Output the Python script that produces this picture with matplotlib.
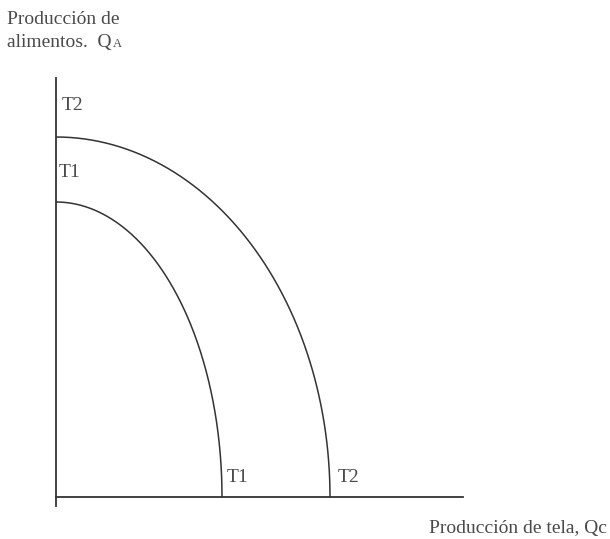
import numpy as np
import matplotlib
matplotlib.use("Agg")
import matplotlib.pyplot as plt

# Data: intercepts of the production possibility frontiers
curves = ["T1", "T2"]
x_intercepts = [166, 274]   # cloth production (Qc) at zero food
y_intercepts = [295, 360]   # food production (QA) at zero cloth

y_label_lines = ["Producción de", "alimentos.  Q"]
y_label_sub = "A"
x_label = "Producción de tela, Qc"

W, H = 610, 539
fig = plt.figure(figsize=(W / 100, H / 100), dpi=100)
ox, oy = 56, 497          # origin in pixels
x_end, y_top, y_below = 463, 78, 9
ax = fig.add_axes([ox / W, (H - oy - y_below) / H, (x_end - ox) / W, (oy + y_below - y_top) / H])
ax.set_xlim(0, x_end - ox)
ax.set_ylim(-y_below, oy - y_top)

col = "#333333"
for s in ["top", "right"]:
    ax.spines[s].set_visible(False)
ax.spines["bottom"].set_position(("data", 0))
for s in ["left", "bottom"]:
    ax.spines[s].set_color(col)
    ax.spines[s].set_linewidth(1.3)
ax.set_xticks([])
ax.set_yticks([])
ax.patch.set_alpha(0)

t = np.linspace(0, np.pi / 2, 300)
for name, a, b in zip(curves, x_intercepts, y_intercepts):
    ax.plot(a * np.sin(t), b * np.cos(t), color=col, lw=1.1, solid_capstyle="butt")

font = dict(family="Liberation Serif", color="#4a4a4a", fontsize=14)
# curve labels
ax.text(6, y_intercepts[1] + 32, curves[1], ha="left", va="center", **font)
ax.text(3, y_intercepts[0] + 30, curves[0], ha="left", va="center", **font)
ax.text(x_intercepts[0] + 5, 20, curves[0], ha="left", va="center", **font)
ax.text(x_intercepts[1] + 8, 20, curves[1], ha="left", va="center", **font)

# axis titles
fig.text(7 / W, 1 - 20 / H, y_label_lines[0], ha="left", va="center", **font)
t2 = fig.text(7 / W, 1 - 43 / H, y_label_lines[1], ha="left", va="center", **font)
fig.canvas.draw()
bb = t2.get_window_extent()
fig.text(bb.x1 / W + 1 / W, 1 - 44 / H, y_label_sub, ha="left", va="center",
         family="Liberation Serif", color="#4a4a4a", fontsize=9)
fig.text(607 / W, 1 - 528 / H, x_label, ha="right", va="center", **font)

fig.savefig("out.png", dpi=100, facecolor="white")
